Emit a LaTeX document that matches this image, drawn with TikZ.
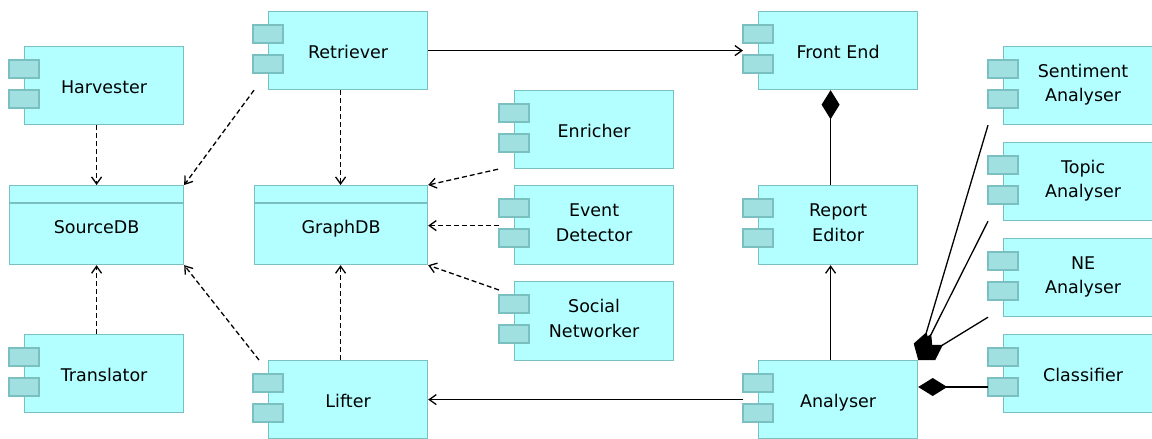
\documentclass[tikz,border=0pt]{standalone}
\usepackage{fontspec}
\setmainfont{DejaVu Sans}
\usetikzlibrary{arrows.meta}
\definecolor{compfill}{RGB}{179,255,255}
\definecolor{compline}{RGB}{122,192,192}
\definecolor{tabfill}{RGB}{160,224,224}
\begin{document}
\begin{tikzpicture}[x=1pt,y=-1pt,
  box/.style={draw=compline, fill=compfill, line width=1.2pt, anchor=north west,
    minimum width=159pt, minimum height=78pt, inner sep=0pt, align=center,
    font=\fontsize{17.5}{24.5}\selectfont, text height=16.3pt, text depth=0pt},
  twoline/.style={text height=32.2pt, text depth=0pt},
  tab/.style={draw=compline, fill=tabfill, line width=1.2pt},
  dep/.style={line width=1.3pt, dash pattern=on 5pt off 3pt,
    -{Straight Barb[length=7pt,width=10pt]}},
  assoc/.style={line width=1.3pt, -{Straight Barb[length=7pt,width=10pt]}},
  compos/.style={line width=1.3pt, -{Diamond[length=29pt,width=18pt,fill=black]}}]
\useasboundingbox (0,0) rectangle (1152,439);
\clip (0,0) rectangle (1152,439);

% data stores
\node[box, minimum width=174pt, minimum height=79pt] (src) at (9,185) {SourceDB};
\node[box, minimum width=173pt, minimum height=79pt] (graph) at (254,185) {GraphDB};
\foreach \n in {src,graph}
  \draw[compline, line width=1.2pt] ([yshift=-18pt]\n.north west) -- ([yshift=-18pt]\n.north east);

% components
\node[box] (harv)  at (24,46)    {Harvester};
\node[box] (trans) at (24,334)   {Translator};
\node[box] (retr)  at (268,11)   {Retriever};
\node[box] (lift)  at (268,360)  {Lifter};
\node[box] (enr)   at (514,90)   {Enricher};
\node[box, twoline, minimum height=79pt] (evt) at (514,185) {Event\\Detector};
\node[box, twoline, minimum height=79pt] (soc) at (514,281) {Social\\Networker};
\node[box] (front) at (758,11)   {Front End};
\node[box, twoline, minimum height=79pt] (rep) at (758,185) {Report\\Editor};
\node[box] (anal)  at (758,360)  {Analyser};
\node[box, twoline] (sent)  at (1003,46)  {Sentiment\\Analyser};
\node[box, twoline] (topic) at (1003,142) {Topic\\Analyser};
\node[box, twoline] (ne)    at (1003,238) {NE\\Analyser};
\node[box] (cls)   at (1003,334) {Classifier};

% component tabs
\foreach \n in {harv,trans,retr,lift,enr,evt,soc,front,rep,anal,sent,topic,ne,cls} {
  \draw[tab] ([xshift=-15pt,yshift=-14pt]\n.north west) rectangle ++(30,18);
  \draw[tab] ([xshift=-15pt,yshift=-44pt]\n.north west) rectangle ++(30,18);
}

% dependencies on the stores
\draw[dep] ([xshift=-7.5pt]harv.south) -- ([xshift=-7.5pt]harv.south |- src.north);
\draw[dep] ([xshift=-7.5pt]trans.north) -- ([xshift=-7.5pt]trans.north |- src.south);
\draw[dep] ([xshift=-14pt]retr.south west) -- (src.north east);
\draw[dep] ([xshift=-9pt]lift.north west) -- (src.south east);
\draw[dep] ([xshift=-7.5pt]retr.south) -- ([xshift=-7.5pt]retr.south |- graph.north);
\draw[dep] ([xshift=-7.5pt]lift.north) -- ([xshift=-7.5pt]lift.north |- graph.south);
\draw[dep] ([xshift=-16pt]enr.south west) -- (graph.north east);
\draw[dep] ([xshift=-15pt,yshift=-0.5pt]evt.west) coordinate (evtend) -- (graph.east |- evtend);
\draw[dep] ([xshift=-15pt,yshift=-9pt]soc.north west) -- (graph.south east);

% associations
\draw[assoc] (retr.east) -- ([xshift=-15pt]front.west);
\draw[assoc] ([xshift=-15pt]anal.west) -- (lift.east);
\draw[assoc] ([xshift=-7.5pt]anal.north) -- ([xshift=-7.5pt]rep.south);

% compositions
\draw[compos] ([xshift=-7.5pt]rep.north) -- ([xshift=-7.5pt]front.south);
\draw[compos] ([xshift=-15pt,yshift=-53pt]cls.north west) coordinate (clsend) -- (anal.east |- clsend);
\draw[compos] ([xshift=-15pt]sent.south west) -- (anal.north east);
\draw[compos] ([xshift=-15pt]topic.south west) -- (anal.north east);
\draw[compos] ([xshift=-15pt]ne.south west) -- (anal.north east);
\end{tikzpicture}
\end{document}
